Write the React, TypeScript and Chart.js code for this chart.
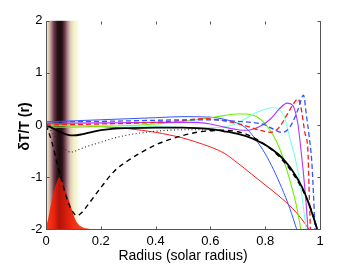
import React, { useEffect, useRef } from "react";
import { Chart, registerables } from "chart.js";

Chart.register(...registerables);

const FONT = "'Liberation Sans', Arial, Helvetica, sans-serif";

// tick values
const xTicks = [0, 0.2, 0.4, 0.6, 0.8, 1];
const yTicks = [-2, -1, 0, 1, 2];

// axis titles
const xTitle = "Radius (solar radius)";
const yTitle = "δT/T (r)";

// shaded band (x range, in solar radii)
const bandStart = -0.025;
const bandEnd = 0.125;

// red peak (filled)
const peakX = [0, 0.005, 0.01, 0.015, 0.02, 0.025, 0.03, 0.035, 0.04, 0.045, 0.049, 0.055, 0.06, 0.065, 0.07, 0.075, 0.08, 0.085, 0.09, 0.095, 0.1, 0.106, 0.115, 0.13, 0.145, 0.16, 0.18];
const peakY = [-1.94, -1.86, -1.74, -1.6, -1.48, -1.36, -1.26, -1.16, -1.08, -1.02, -1.0, -1.03, -1.09, -1.16, -1.23, -1.31, -1.39, -1.47, -1.55, -1.63, -1.71, -1.8, -1.88, -1.95, -1.98, -1.99, -2.0];

// black solid
const blackSolidX = [0, 0.02, 0.05, 0.08, 0.1, 0.13, 0.17, 0.2, 0.25, 0.3, 0.4, 0.5, 0.55, 0.6, 0.65, 0.7, 0.75, 0.8, 0.85, 0.88, 0.9, 0.92, 0.94, 0.96, 0.975, 0.99];
const blackSolidY = [0, -0.05, -0.13, -0.19, -0.2, -0.18, -0.13, -0.1, -0.07, -0.06, -0.05, -0.05, -0.06, -0.08, -0.12, -0.17, -0.25, -0.38, -0.57, -0.74, -0.88, -1.05, -1.25, -1.52, -1.75, -2.0];

// black dotted
const blackDotX = [0, 0.02, 0.04, 0.06, 0.08, 0.09, 0.1, 0.12, 0.15, 0.2, 0.25, 0.3, 0.35, 0.4, 0.45, 0.5, 0.55, 0.6];
const blackDotY = [0, -0.12, -0.28, -0.42, -0.5, -0.52, -0.51, -0.47, -0.41, -0.33, -0.25, -0.19, -0.15, -0.12, -0.1, -0.09, -0.09, -0.1];

// black dashed
const blackDashX = [0, 0.02, 0.04, 0.06, 0.08, 0.1, 0.113, 0.13, 0.15, 0.2, 0.25, 0.3, 0.35, 0.4, 0.45, 0.5, 0.55, 0.6, 0.65, 0.7, 0.75, 0.8, 0.85, 0.9, 0.94, 0.97, 0.99];
const blackDashY = [0, -0.3, -0.72, -1.12, -1.47, -1.68, -1.74, -1.68, -1.55, -1.2, -0.88, -0.68, -0.52, -0.38, -0.28, -0.2, -0.14, -0.11, -0.1, -0.13, -0.22, -0.38, -0.6, -0.92, -1.28, -1.65, -2.0];

// red solid
const redSolidX = [0, 0.1, 0.2, 0.3, 0.4, 0.45, 0.5, 0.55, 0.6, 0.65, 0.7, 0.75, 0.8, 0.85, 0.9, 0.93, 0.96];
const redSolidY = [0, -0.01, -0.03, -0.07, -0.14, -0.19, -0.25, -0.33, -0.42, -0.54, -0.73, -0.94, -1.15, -1.36, -1.6, -1.78, -2.0];

// blue solid
const blueSolidX = [0, 0.1, 0.2, 0.3, 0.4, 0.5, 0.6, 0.65, 0.7, 0.73, 0.76, 0.8, 0.83, 0.86, 0.89, 0.915];
const blueSolidY = [0.06, 0.08, 0.1, 0.12, 0.14, 0.16, 0.15, 0.11, 0.03, -0.06, -0.24, -0.55, -0.85, -1.2, -1.6, -2.0];

// green solid
const greenX = [0, 0.1, 0.2, 0.3, 0.4, 0.5, 0.55, 0.6, 0.65, 0.7, 0.73, 0.76, 0.78, 0.8, 0.82, 0.84, 0.86, 0.88, 0.9, 0.915, 0.93];
const greenY = [-0.04, -0.04, -0.03, -0.01, 0.02, 0.07, 0.1, 0.14, 0.18, 0.21, 0.21, 0.18, 0.12, 0.02, -0.12, -0.3, -0.55, -0.88, -1.25, -1.57, -2.0];

// cyan solid
const cyanX = [0, 0.2, 0.4, 0.55, 0.62, 0.68, 0.72, 0.76, 0.8, 0.825, 0.85, 0.87, 0.89, 0.91, 0.927, 0.94, 0.95];
const cyanY = [0.0, -0.01, -0.03, -0.05, -0.05, 0.0, 0.1, 0.22, 0.3, 0.33, 0.3, 0.15, -0.25, -0.65, -1.1, -1.6, -2.0];

// purple solid
const purpleX = [0, 0.2, 0.4, 0.55, 0.6, 0.65, 0.7, 0.73, 0.76, 0.79, 0.82, 0.85, 0.88, 0.9, 0.91, 0.92, 0.93, 0.94, 0.95, 0.956];
const purpleY = [0.03, 0.04, 0.05, 0.05, 0.02, -0.04, -0.09, -0.1, -0.07, 0.0, 0.12, 0.3, 0.42, 0.38, 0.25, 0.0, -0.45, -0.95, -1.55, -2.0];

// red dashed
const redDashX = [0, 0.2, 0.4, 0.5, 0.58, 0.65, 0.72, 0.78, 0.82, 0.85, 0.88, 0.905, 0.92, 0.93, 0.945, 0.956, 0.96, 0.965];
const redDashY = [0.0, 0.02, 0.05, 0.09, 0.12, 0.08, 0.0, -0.1, -0.14, -0.05, 0.2, 0.42, 0.5, 0.35, -0.15, -0.5, -1.2, -2.0];

// blue dashed
const blueDashX = [0, 0.2, 0.4, 0.5, 0.6, 0.7, 0.75, 0.8, 0.83, 0.86, 0.88, 0.9, 0.92, 0.94, 0.95, 0.96, 0.97, 0.976, 0.982];
const blueDashY = [0.06, 0.07, 0.09, 0.1, 0.1, 0.07, 0.05, 0.0, -0.08, -0.14, -0.1, 0.05, 0.3, 0.57, 0.2, -0.2, -0.7, -1.3, -2.0];

const pts = (xs: number[], ys: number[]) => xs.map((x, i) => ({ x, y: ys[i] }));

const lineDs = (label: string, xs: number[], ys: number[], color: string, width: number, dash: number[] = []) => ({
  label,
  data: pts(xs, ys),
  showLine: true,
  borderColor: color,
  backgroundColor: color,
  borderWidth: width,
  borderDash: dash,
  pointRadius: 0,
  pointHoverRadius: 0,
  fill: false,
  cubicInterpolationMode: "monotone" as const,
});

const bandPlugin = {
  id: "band",
  beforeDatasetsDraw(chart: any) {
    const { ctx, chartArea: a, scales } = chart;
    const xs = scales.x;
    const p0 = xs.getPixelForValue(bandStart);
    const p1 = xs.getPixelForValue(bandEnd);
    const g = ctx.createLinearGradient(p0, 0, p1, 0);
    const stops: [number, string][] = [
      [0, "#ffffff"], [0.15, "#f4f4cc"], [0.2, "#ecebb8"], [0.27, "#c8a4a4"],
      [0.36, "#6a3a48"], [0.44, "#2a1418"], [0.5, "#1c0c10"], [0.56, "#2a1418"],
      [0.62, "#6a3a48"], [0.69, "#b08890"], [0.76, "#e2cbb8"], [0.84, "#f0f0c4"],
      [0.92, "#f7f7de"], [1, "#ffffff"],
    ];
    stops.forEach(([o, c]) => g.addColorStop(o, c));
    ctx.save();
    ctx.beginPath();
    ctx.rect(a.left, a.top, a.right - a.left, a.bottom - a.top);
    ctx.clip();
    ctx.fillStyle = g;
    ctx.fillRect(p0, a.top, p1 - p0, a.bottom - a.top);
    ctx.restore();
  },
};

const axesPlugin = {
  id: "matlabAxes",
  afterDatasetsDraw(chart: any) {
    const { ctx, chartArea: a, scales } = chart;
    const L = Math.round(a.left) + 0.5;
    const R = Math.round(a.right) + 0.5;
    const T = Math.round(a.top) + 0.5;
    const B = Math.round(a.bottom) + 0.5;
    const tl = 3;
    ctx.save();
    ctx.lineWidth = 1;
    ctx.strokeStyle = "#555";
    ctx.beginPath();
    ctx.moveTo(L, T);
    ctx.lineTo(L, B);
    ctx.lineTo(R, B);
    ctx.lineTo(R, T);
    ctx.lineTo(R - 1, T);
    xTicks.forEach((v) => {
      const p = Math.round(scales.x.getPixelForValue(v)) + 0.5;
      ctx.moveTo(p, B);
      ctx.lineTo(p, B - tl);
      ctx.moveTo(p, T);
      ctx.lineTo(p, T + tl);
    });
    yTicks.forEach((v) => {
      const p = Math.round(scales.y.getPixelForValue(v)) + 0.5;
      ctx.moveTo(L, p);
      ctx.lineTo(L + tl, p);
      ctx.moveTo(R, p);
      ctx.lineTo(R - tl, p);
    });
    ctx.stroke();
    ctx.restore();
  },
  afterDraw(chart: any) {
    const { ctx, chartArea: a } = chart;
    ctx.save();
    ctx.translate(28.5, (a.top + a.bottom) / 2 + 1.5);
    ctx.rotate(-Math.PI / 2);
    ctx.font = `bold 14px ${FONT}`;
    ctx.fillStyle = "#000";
    ctx.textAlign = "center";
    ctx.textBaseline = "alphabetic";
    ctx.fillText(yTitle, 0, 0);
    ctx.restore();
  },
};

export default function App() {
  const ref = useRef<HTMLCanvasElement>(null);
  useEffect(() => {
    document.body.style.margin = "0";
    const canvas = ref.current!;
    const chart = new Chart(canvas, {
      type: "scatter",
      data: {
        datasets: [
          lineDs("black solid", blackSolidX, blackSolidY, "#000000", 1.8),
          lineDs("black dashed", blackDashX, blackDashY, "#000000", 1.4, [5, 4]),
          lineDs("black dotted", blackDotX, blackDotY, "#222222", 1.1, [1, 2.5]),
          lineDs("blue dashed", blueDashX, blueDashY, "#3355ff", 1.3, [5, 3]),
          lineDs("red dashed", redDashX, redDashY, "#ff1a1a", 1.3, [5, 3]),
          lineDs("purple", purpleX, purpleY, "#b534ff", 1.1),
          lineDs("cyan", cyanX, cyanY, "#7dffe0", 1.1),
          lineDs("green", greenX, greenY, "#6cf000", 1.1),
          lineDs("blue", blueSolidX, blueSolidY, "#3355ff", 1.0),
          lineDs("red", redSolidX, redSolidY, "#ff1a1a", 1.0),
          {
            label: "peak",
            data: pts(peakX, peakY),
            showLine: true,
            borderWidth: 0,
            borderColor: "rgba(0,0,0,0)",
            pointRadius: 0,
            fill: { value: -2 },
            cubicInterpolationMode: "monotone" as const,
            backgroundColor: (c: any) => {
              const ch = c.chart;
              if (!ch.chartArea) return "#e02010";
              const xs = ch.scales.x;
              const g = ch.ctx.createLinearGradient(xs.getPixelForValue(0), 0, xs.getPixelForValue(0.16), 0);
              g.addColorStop(0, "#ff3a1c");
              g.addColorStop(0.18, "#e8240f");
              g.addColorStop(0.3, "#b0140a");
              g.addColorStop(0.4, "#c8180c");
              g.addColorStop(0.6, "#f02a14");
              g.addColorStop(1, "#ff5030");
              return g;
            },
          },
        ],
      },
      options: {
        animation: false,
        responsive: false,
        devicePixelRatio: 1,
        events: [],
        layout: { padding: { top: 20.6, right: 34, left: 0, bottom: 0 } },
        plugins: { legend: { display: false }, tooltip: { enabled: false } },
        scales: {
          x: {
            type: "linear",
            min: 0,
            max: 1,
            afterFit(s: any) { s.height = 36.6; },
            afterBuildTicks(s: any) { s.ticks = xTicks.map((v) => ({ value: v })); },
            grid: { display: false, drawTicks: false },
            border: { display: false },
            ticks: {
              font: { family: FONT, size: 13 },
              color: "#000",
              padding: 4,
              maxRotation: 0,
              autoSkip: false,
              callback: (v: any) => String(v),
            },
            title: {
              display: true,
              text: xTitle,
              font: { family: FONT, size: 14 },
              color: "#000",
              padding: { top: 0, bottom: 1.5 },
            },
          },
          y: {
            type: "linear",
            min: -2,
            max: 2,
            afterFit(s: any) { s.width = 46; },
            afterBuildTicks(s: any) { s.ticks = yTicks.map((v) => ({ value: v })); },
            grid: { display: false, drawTicks: false },
            border: { display: false },
            ticks: {
              font: { family: FONT, size: 13 },
              color: "#000",
              padding: 3.5,
              autoSkip: false,
              callback: (v: any) => String(v),
            },
            title: { display: false },
          },
        },
      },
      plugins: [bandPlugin, axesPlugin],
    } as any);
    return () => chart.destroy();
  }, []);
  return (
    <div style={{ width: 354, height: 266 }}>
      <canvas ref={ref} width={354} height={266} style={{ display: "block", width: 354, height: 266 }} />
    </div>
  );
}
